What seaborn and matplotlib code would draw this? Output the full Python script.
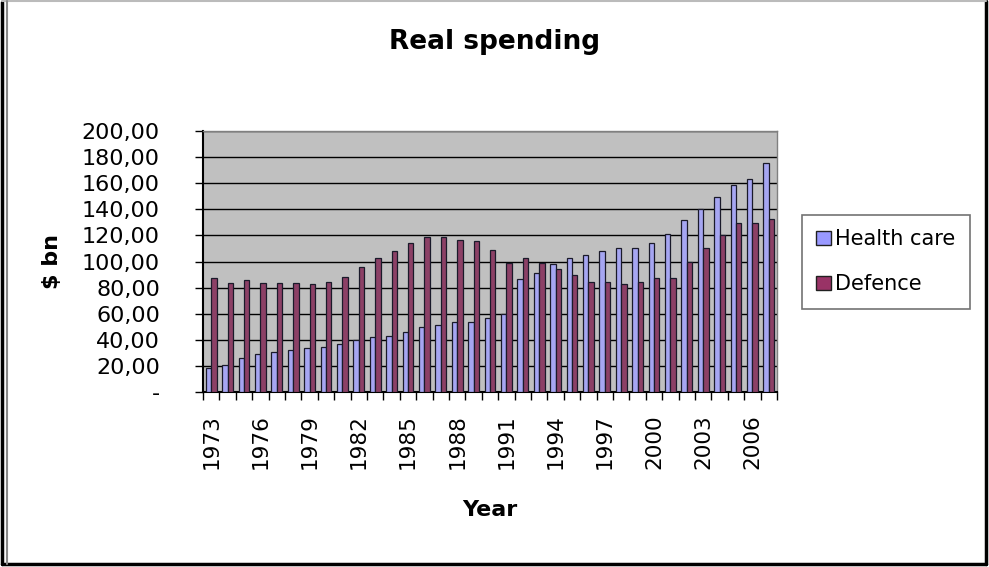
import numpy as np
import pandas as pd
import matplotlib
matplotlib.use("Agg")
import matplotlib.pyplot as plt
from matplotlib.patches import Patch
from matplotlib.lines import Line2D
from matplotlib.ticker import FuncFormatter
import seaborn as sns

years = list(range(1973, 2008))
health_care = [18.5, 21, 26, 29, 30.5, 32, 34, 34.5, 37, 39.5, 42, 43,
               46, 49.5, 51, 53.5, 54, 57, 60, 86.5, 91, 98, 103, 105,
               108, 110, 110, 114.5, 121, 131.5, 140.5, 149.5, 158.5, 163.5, 175.5]
defence = [87.5, 83.5, 85.5, 83.5, 83.5, 83.5, 82.5, 84.5, 88.5, 96, 103, 108,
           114, 119, 119, 116.5, 115.5, 109, 99, 103, 99, 94, 90, 84.5,
           84.5, 83, 84, 87, 87, 99.5, 110.5, 120, 129.5, 129.5, 132.5]
series_names = ["Health care", "Defence"]
series_colors = ["#9999FF", "#993366"]
y_ticks = [0, 20, 40, 60, 80, 100, 120, 140, 160, 180, 200]

df = pd.DataFrame({
    "Year": [str(y) for y in years] * 2,
    "Spending": health_care + defence,
    "Series": [series_names[0]] * len(years) + [series_names[1]] * len(years),
})

sns.set_style("white")
plt.rcParams["font.family"] = ["DejaVu Sans"]
plt.rcParams["text.color"] = "black"
plt.rcParams["axes.labelcolor"] = "black"
plt.rcParams["xtick.color"] = "black"
plt.rcParams["ytick.color"] = "black"

fig = plt.figure(figsize=(9.89, 5.67), dpi=100)
ax = fig.add_axes([0.2053, 0.3086, 0.5803, 0.4603])
ax.set_facecolor("#C0C0C0")

sns.barplot(data=df, x="Year", y="Spending", hue="Series",
            palette=series_colors, width=0.66, edgecolor="#1a1a2a",
            linewidth=0.9, ax=ax, legend=False, zorder=3)

ax.set_ylim(0, 200)
ax.set_xlim(-0.5, len(years) - 0.5)
ax.set_yticks(y_ticks)
ax.yaxis.set_major_formatter(FuncFormatter(
    lambda v, p: "-" if v == 0 else f"{v:.2f}".replace(".", ",")))
ax.yaxis.grid(True, color="black", linewidth=1.0, zorder=1)
ax.set_axisbelow(True)

major = list(range(0, len(years), 3))
ax.set_xticks(major)
ax.set_xticklabels([str(years[i]) for i in major], rotation=90)
ax.set_xticks(np.arange(-0.5, len(years), 1), minor=True)
ax.tick_params(axis="x", which="major", length=0, pad=16, labelsize=15.5)
ax.tick_params(axis="x", which="minor", length=6, width=1, color="black",
               direction="out", bottom=True)
ax.tick_params(axis="y", which="major", length=6, width=1, color="black",
               direction="out", left=True, labelsize=16, pad=25)

for side in ["left", "bottom"]:
    ax.spines[side].set_color("black")
    ax.spines[side].set_linewidth(1.5)
for side in ["top", "right"]:
    ax.spines[side].set_color("#808080")
    ax.spines[side].set_linewidth(1.0)

ax.set_xlabel("Year", fontsize=16, fontweight="bold", labelpad=22)
ax.set_ylabel("$ bn", fontsize=16, fontweight="bold", labelpad=14)

fig.text(0.5, 0.926, "Real spending", ha="center", va="center",
         fontsize=19, fontweight="bold")

handles = [Patch(facecolor=c, edgecolor="#202020", linewidth=1.0)
           for c in series_colors]
leg = fig.legend(handles, series_names, loc="center left",
                 bbox_to_anchor=(0.8, 0.538), fontsize=15,
                 frameon=True, fancybox=False, edgecolor="#505050",
                 handlelength=0.7, handleheight=0.7, handletextpad=0.2,
                 labelspacing=1.2, borderpad=0.7)
leg.get_frame().set_linewidth(1.2)

# page frame around the figure
W, H = 989.0, 567.0
def fx(px):
    return px / W
def fy(py):
    return 1 - py / H
frame = [((1.5, 1.5), (1.5, 564), "black", 2.5),
         ((1.5, 564), (986, 564), "black", 2.5),
         ((986, 564), (986, 1), "black", 2.5),
         ((1.5, 0.8), (986, 0.8), "#BBBBBB", 1.5),
         ((7, 1), (7, 564), "#888888", 1.5)]
for (x0, y0), (x1, y1), col, lw in frame:
    fig.add_artist(Line2D([fx(x0), fx(x1)], [fy(y0), fy(y1)],
                          transform=fig.transFigure, color=col, linewidth=lw))

fig.savefig("out.png", dpi=100)
